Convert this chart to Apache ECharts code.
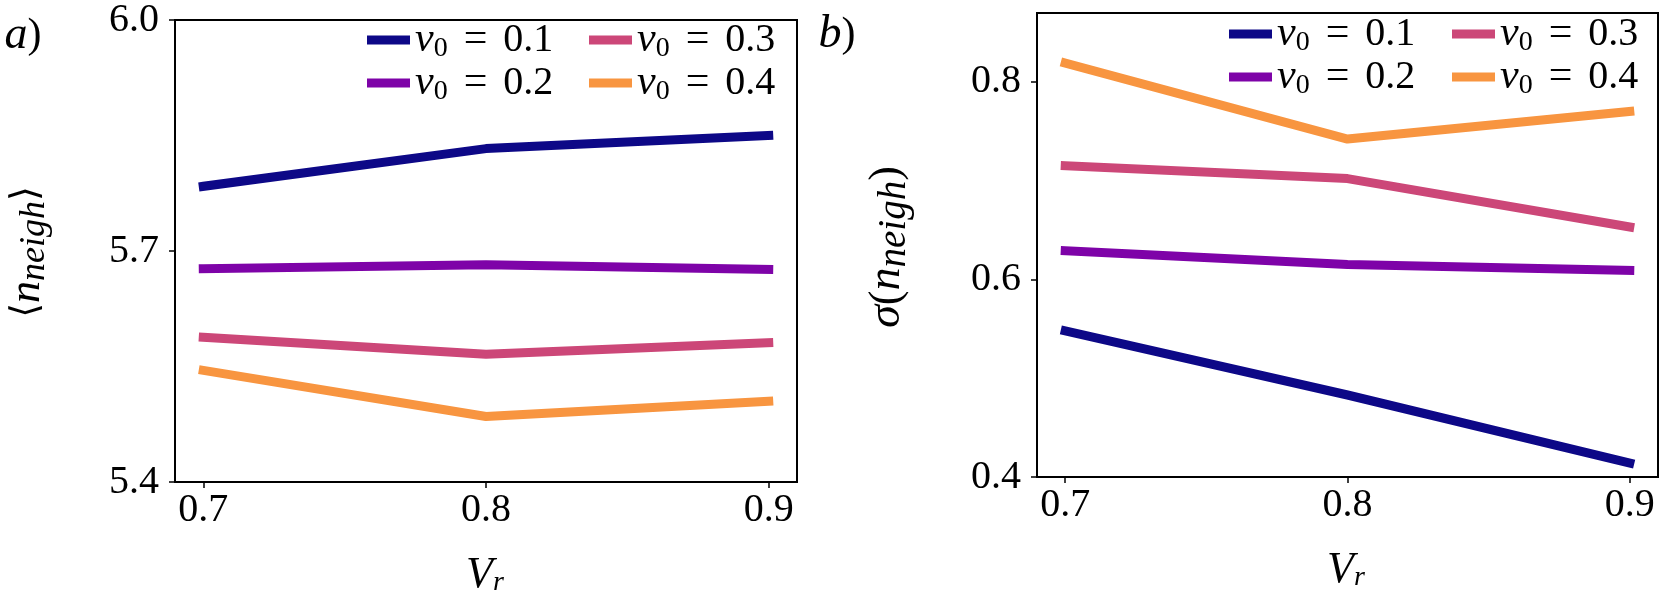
<!DOCTYPE html>
<html>
<head>
<meta charset="utf-8">
<script src="https://cdn.jsdelivr.net/npm/echarts@6/dist/echarts.min.js"></script>
<style>
html,body{margin:0;padding:0;background:#fff;}
#chart{width:1661px;height:594px;}
</style>
</head>
<body>
<div id="chart"></div>
<script>
// ---- data ----
const xValues = [0.7, 0.8, 0.9];
const v0Labels = ['0.1', '0.2', '0.3', '0.4'];
const seriesColors = ['#0d0887', '#7e03a8', '#cc4778', '#f89540'];
// panel a) mean number of neighbours
const meanV01 = [5.784, 5.833, 5.850];
const meanV02 = [5.677, 5.682, 5.676];
const meanV03 = [5.588, 5.566, 5.581];
const meanV04 = [5.545, 5.485, 5.505];
// panel b) standard deviation of number of neighbours
const sdV01 = [0.548, 0.483, 0.414];
const sdV02 = [0.629, 0.615, 0.609];
const sdV03 = [0.715, 0.702, 0.653];
const sdV04 = [0.819, 0.742, 0.770];
// ticks
const xTicks = [0.7, 0.8, 0.9];
const leftYTicks = [5.4, 5.7, 6.0];
const rightYTicks = [0.4, 0.6, 0.8];

const meanSets = [meanV01, meanV02, meanV03, meanV04];
const sdSets = [sdV01, sdV02, sdV03, sdV04];
const names = v0Labels.map(v => 'v0 = ' + v);

const SERIF = 'Liberation Serif';
const tickFont = {fontFamily: SERIF, fontSize: 40, color: '#000'};

function pairs(arr) { return xValues.map((x, i) => [x, arr[i]]); }

const series = [];
meanSets.forEach((arr, k) => series.push({
  type: 'line', name: names[k], xAxisIndex: 0, yAxisIndex: 0, data: pairs(arr),
  symbol: 'none', color: seriesColors[k],
  lineStyle: {width: 9, color: seriesColors[k], cap: 'square', join: 'round'},
  emphasis: {disabled: true}
}));
sdSets.forEach((arr, k) => series.push({
  type: 'line', name: names[k], xAxisIndex: 1, yAxisIndex: 1, data: pairs(arr),
  symbol: 'none', color: seriesColors[k],
  lineStyle: {width: 9, color: seriesColors[k], cap: 'square', join: 'round'},
  emphasis: {disabled: true}
}));

// legend line box height 46: main text centred, subscript pushed to the bottom
const legendRich = {
  i: {fontFamily: SERIF, fontStyle: 'italic', fontSize: 42, lineHeight: 46, color: '#000'},
  s: {fontFamily: SERIF, fontSize: 28, lineHeight: 46, verticalAlign: 'bottom', color: '#000'},
  e: {fontFamily: SERIF, fontSize: 42, lineHeight: 46, color: '#000', padding: [0, 16, 0, 16]},
  n: {fontFamily: SERIF, fontSize: 40, lineHeight: 46, color: '#000'}
};
function legendFormatter(name) {
  const v = name.split('= ')[1];
  return '{i|v}{s|0}{e|=}{n|' + v + '}';
}
function legend(left, centerY, name) {
  return {
    left: left, top: centerY - 23, orient: 'vertical', itemWidth: 43, itemHeight: 9,
    padding: 0, icon: 'rect', data: [name], selectedMode: false,
    formatter: legendFormatter, textStyle: {fontFamily: SERIF, rich: legendRich}
  };
}

function xAxis(gridIndex) {
  return {
    type: 'value', gridIndex: gridIndex, min: 0.69, max: 0.91,
    axisLine: {show: true, lineStyle: {color: '#000', width: 2}},
    axisTick: {show: true, length: 6, lineStyle: {color: '#000', width: 1.5}, customValues: xTicks},
    axisLabel: Object.assign({margin: 8, customValues: xTicks, formatter: v => v.toFixed(1)}, tickFont),
    splitLine: {show: false}
  };
}
function yAxis(gridIndex, min, max, ticks) {
  return {
    type: 'value', gridIndex: gridIndex, min: min, max: max,
    axisLine: {show: true, lineStyle: {color: '#000', width: 2}},
    axisTick: {show: true, length: 6, lineStyle: {color: '#000', width: 1.5}, customValues: ticks},
    axisLabel: Object.assign({margin: 16, customValues: ticks, formatter: v => v.toFixed(1)}, tickFont),
    splitLine: {show: false}
  };
}

const itRich = {
  i: {fontFamily: SERIF, fontStyle: 'italic', fontSize: 44, lineHeight: 44, color: '#000'},
  s: {fontFamily: SERIF, fontStyle: 'italic', fontSize: 36, lineHeight: 52, verticalAlign: 'bottom', color: '#000'},
  r: {fontFamily: SERIF, fontStyle: 'italic', fontSize: 28, lineHeight: 44, verticalAlign: 'bottom', color: '#000'},
  n: {fontFamily: SERIF, fontSize: 44, color: '#000', lineHeight: 44},
  a: {fontFamily: SERIF, fontStyle: 'italic', fontSize: 46, lineHeight: 44, color: '#000'},
  p: {fontFamily: SERIF, fontSize: 42, color: '#000', lineHeight: 44},
  b: {fontFamily: 'DejaVu Serif', fontSize: 38, color: '#000', lineHeight: 44},
  // right y label (slightly larger glyphs)
  I: {fontFamily: SERIF, fontStyle: 'italic', fontSize: 46, lineHeight: 46, color: '#000'},
  S: {fontFamily: SERIF, fontStyle: 'italic', fontSize: 39, lineHeight: 55, verticalAlign: 'bottom', color: '#000'},
  P: {fontFamily: SERIF, fontSize: 44, color: '#000', lineHeight: 46}
};

function label(text, x, y, rot) {
  return {
    type: 'text', x: x, y: y, rotation: rot || 0, silent: true,
    style: {text: text, rich: itRich, fontFamily: SERIF, align: 'center', verticalAlign: 'middle',
            textAlign: 'center', textVerticalAlign: 'middle'}
  };
}

const option = {
  animation: false,
  backgroundColor: '#fff',
  textStyle: {fontFamily: SERIF},
  grid: [
    {left: 175, top: 19, width: 622, height: 463, show: true, borderColor: '#000', borderWidth: 2, backgroundColor: 'transparent'},
    {left: 1037, top: 13, width: 621, height: 464, show: true, borderColor: '#000', borderWidth: 2, backgroundColor: 'transparent'}
  ],
  xAxis: [xAxis(0), xAxis(1)],
  yAxis: [yAxis(0, 5.4, 6.0, leftYTicks), yAxis(1, 0.4, 0.8696, rightYTicks)],
  legend: [
    legend(367, 42, names[0]),
    legend(367, 85, names[1]),
    legend(589, 42, names[2]),
    legend(589, 85, names[3]),
    legend(1229, 36, names[0]),
    legend(1229, 79, names[1]),
    legend(1452, 36, names[2]),
    legend(1452, 79, names[3])
  ],
  graphic: [
    label('{a|a}{p|)}', 23, 36),
    label('{a|b}{p|)}', 837, 35),
    label('{i|V}{r|r}', 485, 575),
    label('{i|V}{r|r}', 1346, 570),
    label('{b|⟨}{i|n}{s|neigh}{b|⟩}', 27, 252, Math.PI / 2),
    label('{I|σ}{P|(}{I|n}{S|neigh}{P|)}', 887, 247, Math.PI / 2)
  ],
  series: series
};

const chart = echarts.init(document.getElementById('chart'), null, {renderer: 'canvas'});
chart.setOption(option);
</script>
</body>
</html>
